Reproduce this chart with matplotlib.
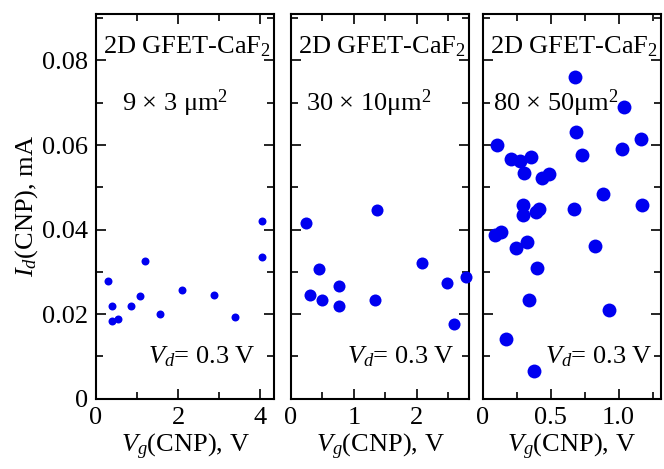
import numpy as np
import matplotlib
matplotlib.use("Agg")
import matplotlib.pyplot as plt
from matplotlib.ticker import MultipleLocator

# Data: Vg(CNP) in V, Id(CNP) in mA
vg_small = [0.30, 0.38, 0.38, 0.54, 0.86, 1.06, 1.20, 1.55, 2.09, 2.86, 3.39, 4.03, 4.03]
id_small = [0.0279, 0.0218, 0.0184, 0.0189, 0.0218, 0.0242, 0.0325, 0.0200, 0.0257, 0.0244, 0.0193, 0.0419, 0.0334]

vg_mid = [0.24, 1.37, 0.44, 0.30, 0.49, 0.76, 0.77, 1.34, 2.08, 2.48, 2.59, 2.79]
id_mid = [0.0415, 0.0446, 0.0307, 0.0246, 0.0233, 0.0267, 0.0218, 0.0232, 0.0321, 0.0274, 0.0176, 0.0288]

vg_big = [0.679, 1.039, 0.684, 1.164, 0.103, 1.022, 0.730, 0.206, 0.358, 0.275,
          0.304, 0.434, 0.488, 0.885, 1.176, 0.297, 0.672, 0.414, 0.294, 0.390,
          0.091, 0.132, 0.243, 0.326, 0.824, 0.397, 0.343, 0.926, 0.169, 0.375]
id_big = [0.0761, 0.0691, 0.0631, 0.0615, 0.0599, 0.0590, 0.0577, 0.0568, 0.0572, 0.0561,
          0.0534, 0.0521, 0.0531, 0.0484, 0.0457, 0.0457, 0.0449, 0.0449, 0.0435, 0.0441,
          0.0387, 0.0393, 0.0356, 0.0370, 0.0361, 0.0309, 0.0232, 0.0210, 0.0140, 0.0065]

sizes_text = ["9 × 3 μm$^2$", "30 × 10μm$^2$", "80 × 50μm$^2$"]
y_ticks = [0, 0.02, 0.04, 0.06, 0.08]
y_tick_labels = ["0", "0.02", "0.04", "0.06", "0.08"]

DOT_COLOUR = "#0000f0"
FONT_SIZE = 19

plt.rcParams["font.family"] = "Liberation Serif"
plt.rcParams["mathtext.fontset"] = "custom"
plt.rcParams["mathtext.rm"] = "Liberation Serif"
plt.rcParams["mathtext.it"] = "Liberation Serif:italic"
plt.rcParams["font.size"] = FONT_SIZE

fig = plt.figure(figsize=(6.64, 4.69), dpi=100)

bottom = 0.1503
height = 0.8198
width = 0.268
lefts = [0.1446, 0.4383, 0.727]
size_x = [0.144, 0.084, 0.06]
vd_x = [0.90, 0.92, 0.955]

panels = [
    (vg_small, id_small, 33, 4.33, 1, [0, 2, 4], ["0", "2", "4"]),
    (vg_mid, id_mid, 75, 2.83, 0.5, [0, 1, 2], ["0", "1", "2"]),
    (vg_big, id_big, 100, 1.31, 0.25, [0, 0.5, 1.0], ["0", "0.5", "1.0"]),
]

for i, (vg, idd, s, xmax, minor, xt, xtl) in enumerate(panels):
    ax = fig.add_axes([lefts[i], bottom, width, height])
    ax.scatter(vg, idd, s=s, color=DOT_COLOUR, linewidths=0, zorder=3, clip_on=False)
    ax.set_xlim(0, xmax)
    ax.set_ylim(0, 0.091)
    ax.set_xticks(xt)
    ax.set_xticklabels(xtl)
    ax.xaxis.set_minor_locator(MultipleLocator(minor))
    ax.set_yticks(y_ticks)
    ax.yaxis.set_minor_locator(MultipleLocator(0.01))
    ax.tick_params(which="both", direction="in", top=True, right=True, width=1.2)
    ax.tick_params(which="major", length=7, pad=6)
    ax.tick_params(which="minor", length=5)
    for sp in ax.spines.values():
        sp.set_linewidth(1.5)
    if i == 0:
        ax.set_yticklabels(y_tick_labels)
        ax.set_ylabel("$I_d$(CNP), mA", labelpad=1)
    else:
        ax.set_yticklabels([])
    ax.set_xlabel("$V_g$(CNP), V", labelpad=2)

    ax.text(0.04, 0.915, "2D GFET-CaF$_2$", transform=ax.transAxes, ha="left", va="center")
    ax.text(size_x[i], 0.768, sizes_text[i], transform=ax.transAxes, ha="left", va="center")
    ax.text(vd_x[i], 0.11, "$V_d$= 0.3 V", transform=ax.transAxes, ha="right", va="center")

fig.savefig("out.png", dpi=100)
